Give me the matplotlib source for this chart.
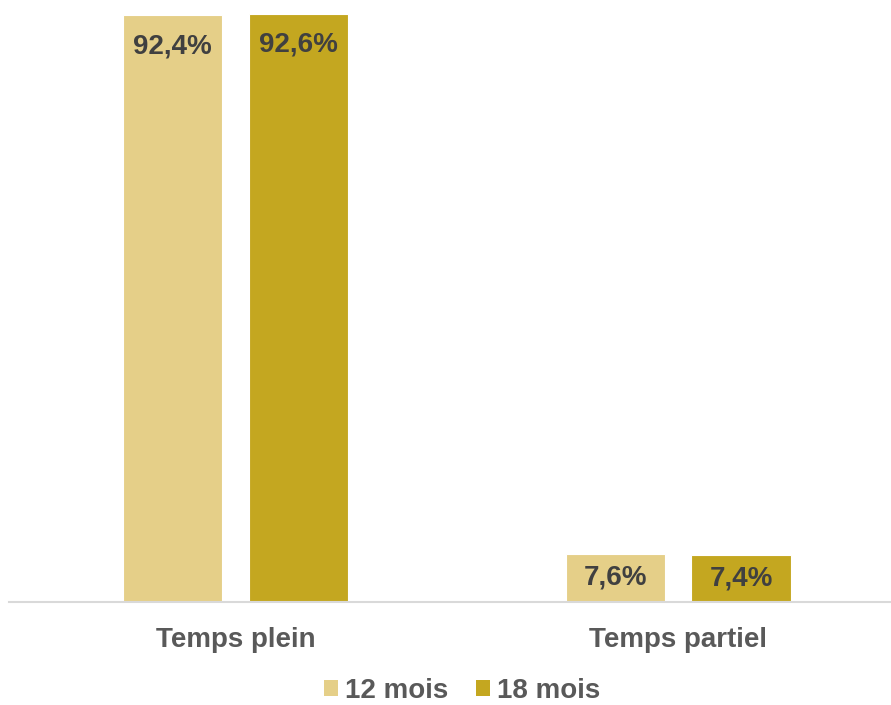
import numpy as np
import matplotlib
matplotlib.use("Agg")
import matplotlib.pyplot as plt
from matplotlib.patches import Patch

plt.rcParams['font.family'] = ['Liberation Sans', 'DejaVu Sans']

# data
categories = ["Temps plein", "Temps partiel"]
series_names = ["12 mois", "18 mois"]
vals_12 = [92.4, 7.6]
vals_18 = [92.6, 7.4]
colors = ["#E5CF88", "#C4A720"]

fig = plt.figure(figsize=(8.91, 7.05), dpi=100)
ax = fig.add_axes([9 / 891, 103 / 705, 882 / 891, 597 / 705])

x = np.arange(len(categories))
width = 0.224
offset = 0.142

for vals, off, col in [(vals_12, -offset, colors[0]), (vals_18, offset, colors[1])]:
    bars = ax.bar(x + off, vals, width=width, color=col, edgecolor='white', linewidth=0.8)
    for b, v in zip(bars, vals):
        cx = b.get_x() + b.get_width() / 2
        label = f"{v:.1f}%".replace(".", ",")
        if v > 15:
            ax.annotate(label, (cx, v), xytext=(0, -31), textcoords='offset pixels',
                        ha='center', va='center', fontsize=20, fontweight='bold',
                        color='#404040')
        else:
            ax.text(cx, v / 2, label, ha='center', va='center', fontsize=20,
                    fontweight='bold', color='#404040')

ax.set_xlim(-0.512, 1.481)
ax.set_ylim(0, 94)

ax.set_xticks(x)
ax.set_xticklabels(categories, fontsize=20, fontweight='bold', color='#595959')
ax.tick_params(axis='x', length=0, pad=18)
ax.set_yticks([])

for s in ['top', 'right', 'left']:
    ax.spines[s].set_visible(False)
ax.spines['bottom'].set_color('#D9D9D9')
ax.spines['bottom'].set_linewidth(1.5)

handles = [Patch(facecolor=c, edgecolor='none') for c in colors]
leg = fig.legend(handles, series_names, loc='center', ncol=2,
                 bbox_to_anchor=(462 / 891, 1 - 691 / 705), frameon=False,
                 prop={'size': 20, 'weight': 'bold'},
                 handlelength=0.5, handleheight=0.5, handletextpad=0.25,
                 columnspacing=1.0, borderpad=0)
for t in leg.get_texts():
    t.set_color('#595959')

fig.savefig("out.png", dpi=100)
